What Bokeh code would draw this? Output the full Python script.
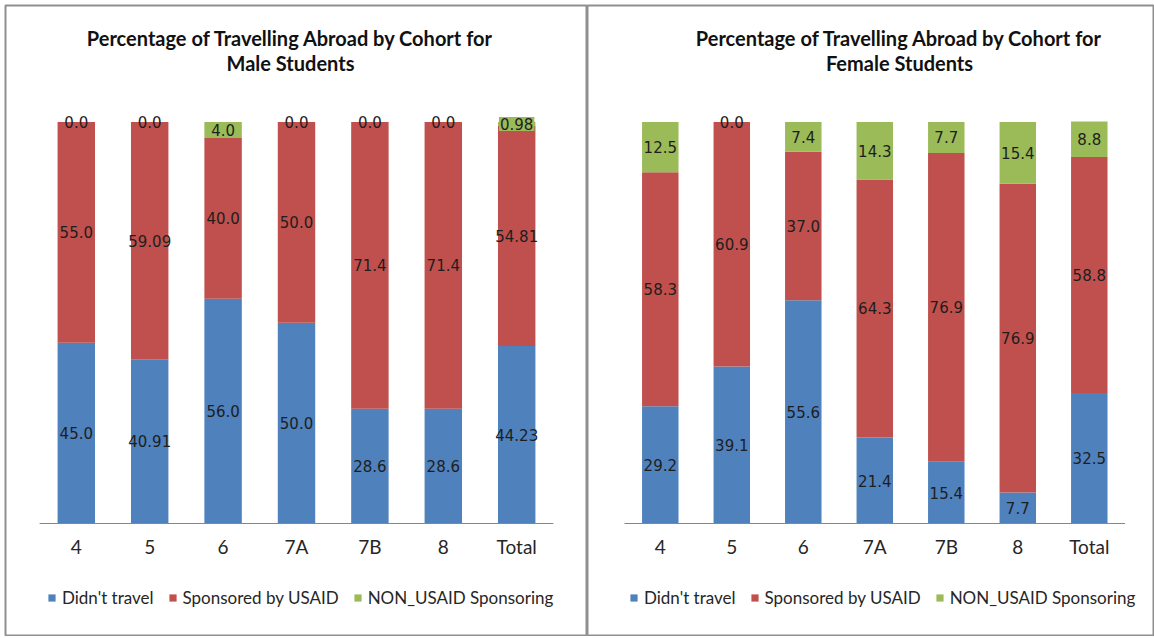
from bokeh.plotting import figure
from bokeh.models import ColumnDataSource, FactorRange, Range1d, Legend, LegendItem, Label
from bokeh.transform import dodge
from bokeh.layouts import row
from bokeh.core.properties import value
from bokeh.embed import file_html
from bokeh.resources import INLINE

# ---------------- data ----------------
cohorts = ["4", "5", "6", "7A", "7B", "8", "Total"]
series_names = ["Didn't travel", "Sponsored by USAID", "NON_USAID Sponsoring"]

male_didnt_travel = [45.0, 40.91, 56.0, 50.0, 28.6, 28.6, 44.23]
male_usaid = [55.0, 59.09, 40.0, 50.0, 71.4, 71.4, 54.81]
male_non_usaid = [0.0, 0.0, 4.0, 0.0, 0.0, 0.0, 0.98]

female_didnt_travel = [29.2, 39.1, 55.6, 21.4, 15.4, 7.7, 32.5]
female_usaid = [58.3, 60.9, 37.0, 64.3, 76.9, 76.9, 58.8]
female_non_usaid = [12.5, 0.0, 7.4, 14.3, 7.7, 15.4, 8.8]

male_title = ["Percentage of Travelling Abroad by Cohort for", "Male Students"]
female_title = ["Percentage of Travelling Abroad by Cohort for", "Female Students"]

# ---------------- style ----------------
COLORS = ["#4F81BD", "#C0504D", "#9BBB59"]
H = 636
FRAME_TOP = 5          # px from page top
FRAME_BOTTOM = 636     # px from page top
BASELINE = 523         # page y of the 0 line
PX_PER_UNIT = 4.015
Y_END = (BASELINE - FRAME_TOP) / PX_PER_UNIT
Y_START = (BASELINE - FRAME_BOTTOM) / PX_PER_UNIT


def ydata(page_y):
    return (BASELINE - page_y) / PX_PER_UNIT


def fmt(v):
    return f"{v:.2f}" if round(v, 1) != v else f"{v:.1f}"


def make_panel(didnt, usaid, non, title, width, padding, shift, title_x, legend_x, border_left):
    d_mid = [a / 2 for a in didnt]
    u_mid = [a + b / 2 for a, b in zip(didnt, usaid)]
    n_mid = [a + b + c / 2 for a, b, c in zip(didnt, usaid, non)]
    src = ColumnDataSource(dict(
        cohort=cohorts, d=didnt, u=usaid, n=non,
        d_mid=d_mid, u_mid=u_mid,
        d_txt=[fmt(v) for v in didnt], u_txt=[fmt(v) for v in usaid],
    ))
    # labels for the third series: zero values sit on the red bar without a box
    nz = [i for i, v in enumerate(non) if v > 0]
    z = [i for i, v in enumerate(non) if v == 0]
    src_nz = ColumnDataSource(dict(cohort=[cohorts[i] for i in nz], mid=[n_mid[i] for i in nz],
                                   txt=[fmt(non[i]) for i in nz]))
    src_z = ColumnDataSource(dict(cohort=[cohorts[i] for i in z], mid=[n_mid[i] for i in z],
                                  txt=[fmt(non[i]) for i in z]))

    xr = FactorRange(factors=cohorts, range_padding=padding, range_padding_units="absolute")
    p = figure(x_range=xr, y_range=Range1d(Y_START, Y_END), width=width, height=H,
               output_backend="svg", toolbar_location=None,
               min_border_left=border_left, min_border_right=0,
               min_border_top=FRAME_TOP, min_border_bottom=H - FRAME_BOTTOM)
    p.xaxis.visible = False
    p.yaxis.visible = False
    p.grid.visible = False
    p.outline_line_color = "#8f8f8f"
    p.outline_line_width = 2
    p.background_fill_color = "white"
    p.border_fill_color = "white"

    xs = dodge("cohort", shift, range=xr)
    rs = p.vbar_stack(["d", "u", "n"], x=xs, width=0.51, source=src,
                      fill_color=COLORS, line_color=None)

    # baseline (category axis line)
    bsrc = ColumnDataSource(dict(x0=[cohorts[0]], x1=[cohorts[-1]]))
    p.segment(x0=dodge("x0", shift - 0.5, range=xr), y0=0,
              x1=dodge("x1", shift + 0.5, range=xr), y1=0,
              source=bsrc, line_color="#868686", line_width=1)

    # category labels
    p.text(x=xs, y=ydata(546), text="cohort", source=src, text_font=value("Lato"),
           text_font_size="19px", text_align="center", text_baseline="middle",
           text_color="#262626")

    # data labels
    lab = dict(text_font=value("DejaVu Sans"), text_font_size="15px", text_align="center",
               text_baseline="middle", text_color="#1e1e1e")
    p.text(x=xs, y="d_mid", text="d_txt", source=src, **lab)
    p.text(x=xs, y="u_mid", text="u_txt", source=src, **lab)
    p.text(x=dodge("cohort", shift, range=xr), y="mid", text="txt", source=src_nz,
           background_fill_color=COLORS[2], padding=1, **lab)
    p.text(x=dodge("cohort", shift, range=xr), y="mid", text="txt", source=src_z, **lab)

    # title
    for i, line in enumerate(title):
        p.add_layout(Label(x=title_x, x_units="screen", y=ydata(37 + 25 * i),
                           y_units="data", text=line, text_align="center",
                           text_baseline="middle", text_font="Lato", text_font_style="bold",
                           text_font_size="20px", text_color="#111111"))

    legend = Legend(items=[LegendItem(label=s, renderers=[r]) for s, r in zip(series_names, rs)],
                    location=(legend_x, FRAME_BOTTOM - 608), orientation="horizontal",
                    glyph_width=9, glyph_height=9, label_standoff=6, spacing=14,
                    padding=0, margin=0, label_height=20,
                    label_text_font="Lato", label_text_font_size="17px",
                    label_text_color="#262626", background_fill_alpha=0,
                    border_line_color=None)
    p.add_layout(legend, "center")
    return p


p1 = make_panel(male_didnt_travel, male_usaid, male_non_usaid, male_title,
                width=587, padding=0.4646, shift=0.0, title_x=285, legend_x=42,
                border_left=5)
p2 = make_panel(female_didnt_travel, female_usaid, female_non_usaid, female_title,
                width=567, padding=0.465, shift=0.053, title_x=312, legend_x=42,
                border_left=0)

layout = row(p1, p2)
open("out.html", "w").write(file_html(layout, INLINE))
